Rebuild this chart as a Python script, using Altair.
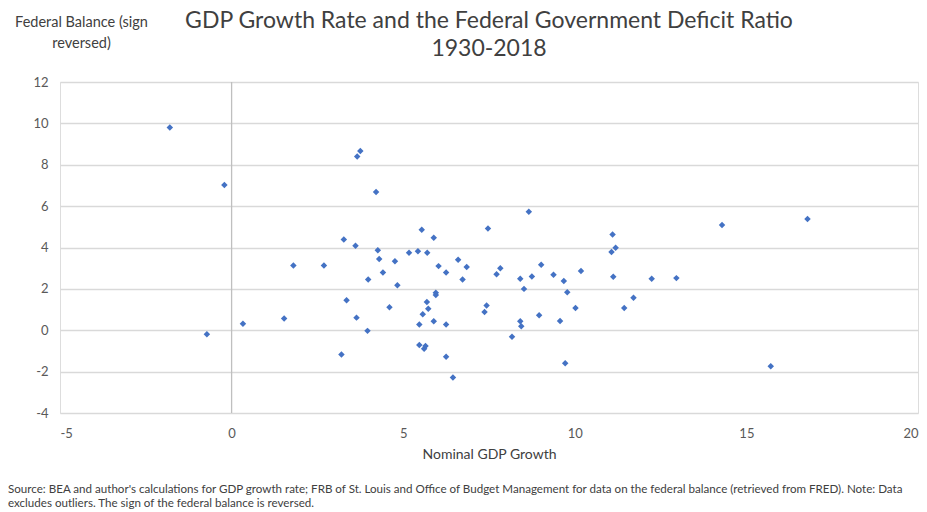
import altair as alt
import pandas as pd

# Nominal GDP growth (%) and federal balance as % of GDP (sign reversed), one pair per year
gdp_growth = [
    -1.80, -0.21, -0.72, 0.33, 1.53, 1.80, 2.69, 3.20, 3.27, 3.35,
    3.61, 3.64, 3.66, 3.75, 3.96, 3.98, 4.21, 4.26, 4.30, 4.41,
    4.60, 4.76, 4.83, 5.17, 5.43, 5.47, 5.47, 5.54, 5.57, 5.61,
    5.65, 5.69, 5.70, 5.73, 5.89, 5.89, 5.95, 5.95, 6.03, 6.25,
    6.25, 6.25, 6.45, 6.60, 6.73, 6.85, 7.37, 7.43, 7.47, 7.72,
    7.83, 8.17, 8.41, 8.41, 8.44, 8.52, 8.66, 8.75, 8.96, 9.02,
    9.38, 9.57, 9.68, 9.72, 9.78, 10.02, 10.18, 11.07, 11.10, 11.12,
    11.19, 11.44, 11.71, 12.24, 12.96, 14.29, 15.71, 16.78,
]
federal_balance_rev = [
    9.80, 7.02, -0.19, 0.31, 0.57, 3.13, 3.13, -1.17, 4.39, 1.45,
    4.09, 0.61, 8.40, 8.67, -0.03, 2.45, 6.68, 3.87, 3.44, 2.79,
    1.11, 3.33, 2.18, 3.75, 3.82, 0.28, -0.71, 4.86, 0.77, -0.89,
    -0.76, 1.36, 3.75, 1.04, 4.47, 0.43, 1.81, 1.70, 3.10, 2.79,
    0.28, -1.28, -2.28, 3.41, 2.45, 3.06, 0.88, 1.20, 4.92, 2.71,
    3.00, -0.31, 2.49, 0.44, 0.19, 2.00, 5.73, 2.60, 0.73, 3.17,
    2.68, 0.45, 2.38, -1.60, 1.84, 1.08, 2.86, 3.78, 4.63, 2.59,
    3.99, 1.08, 1.57, 2.49, 2.52, 5.09, -1.74, 5.38,
]

x_ticks = [-5, 0, 5, 10, 15, 20]
y_ticks = [-4, -2, 0, 2, 4, 6, 8, 10, 12]

title_lines = ["GDP Growth Rate and the Federal Government Deficit Ratio", "1930-2018"]
y_title = ["Federal Balance (sign", "reversed)"]
x_title = "Nominal GDP Growth"
note_lines = [
    "Source: BEA and author's calculations for GDP growth rate; FRB of St. Louis and Office of Budget Management "
    "for data on the federal balance (retrieved from FRED). Note: Data",
    "excludes outliers. The sign of the federal balance is reversed.",
]

FONT = "Lato"
TEXT = "#404040"
BLUE = "#4472C4"
GRID = "#d9d9d9"
PLAIN_NUMBER = "'' + datum.value"  # plain hyphen for negatives

df = pd.DataFrame({"growth": gdp_growth, "balance": federal_balance_rev})

x_scale = alt.Scale(domain=[-5, 20], nice=False, zero=False)
y_scale = alt.Scale(domain=[-4, 12], nice=False, zero=False)

x_enc = alt.X(
    "growth:Q",
    scale=x_scale,
    axis=alt.Axis(
        values=x_ticks, grid=False, domain=False, ticks=False, labelExpr=PLAIN_NUMBER,
        labelPadding=14, labelFontSize=13, labelColor="#595959", labelFont=FONT,
        title=x_title, titleFontSize=14, titleFont=FONT, titleColor=TEXT,
        titleFontWeight="normal", titlePadding=7,
    ),
)
y_enc = alt.Y(
    "balance:Q",
    scale=y_scale,
    axis=alt.Axis(
        values=y_ticks, grid=True, gridColor=GRID, gridWidth=1.3, domain=False, ticks=False,
        labelExpr=PLAIN_NUMBER,
        labelPadding=12, labelFontSize=13, labelColor="#595959", labelFont=FONT,
        title=y_title, titleAngle=0, titleAlign="center", titleBaseline="top",
        titleX=21, titleY=-67, titleFontSize=14.5, titleFont=FONT, titleLineHeight=21,
        titleColor=TEXT, titleFontWeight="normal",
    ),
)

points = alt.Chart(df).mark_point(
    shape="diamond", filled=True, size=42, color=BLUE, opacity=1
).encode(x=x_enc, y=y_enc)

# vertical axis line crossing at zero growth
zero_line = alt.Chart(pd.DataFrame({"x": [0], "y": [-4], "y2": [12]})).mark_rule(
    color="#bfbfbf", strokeWidth=1.3
).encode(
    x=alt.X("x:Q", scale=x_scale),
    y=alt.Y("y:Q", scale=y_scale),
    y2="y2:Q",
)

# two-line heading, centred over the plot area
heading = alt.Chart(pd.DataFrame({"t": [0]})).mark_text(
    align="center", baseline="top", fontSize=23, font=FONT, color=TEXT, lineHeight=28
).encode(
    x=alt.value(429),
    y=alt.value(-72),
    text=alt.value(title_lines),
)

note = alt.Chart(pd.DataFrame({"t": [0]})).mark_text(
    align="left", baseline="top", fontSize=11.6, font=FONT, color=TEXT, lineHeight=14
).encode(
    x=alt.value(-52),
    y=alt.value(402),
    text=alt.value(note_lines),
)

chart = alt.layer(zero_line, points, heading, note).properties(
    width=858,
    height=331,
    autosize=alt.AutoSizeParams(type="none"),
    padding={"left": 60, "top": 82, "right": 9, "bottom": 99},
).configure_view(stroke=None).configure(background="white")

chart.save("out.html", embed_options={"renderer": "svg", "actions": False})
